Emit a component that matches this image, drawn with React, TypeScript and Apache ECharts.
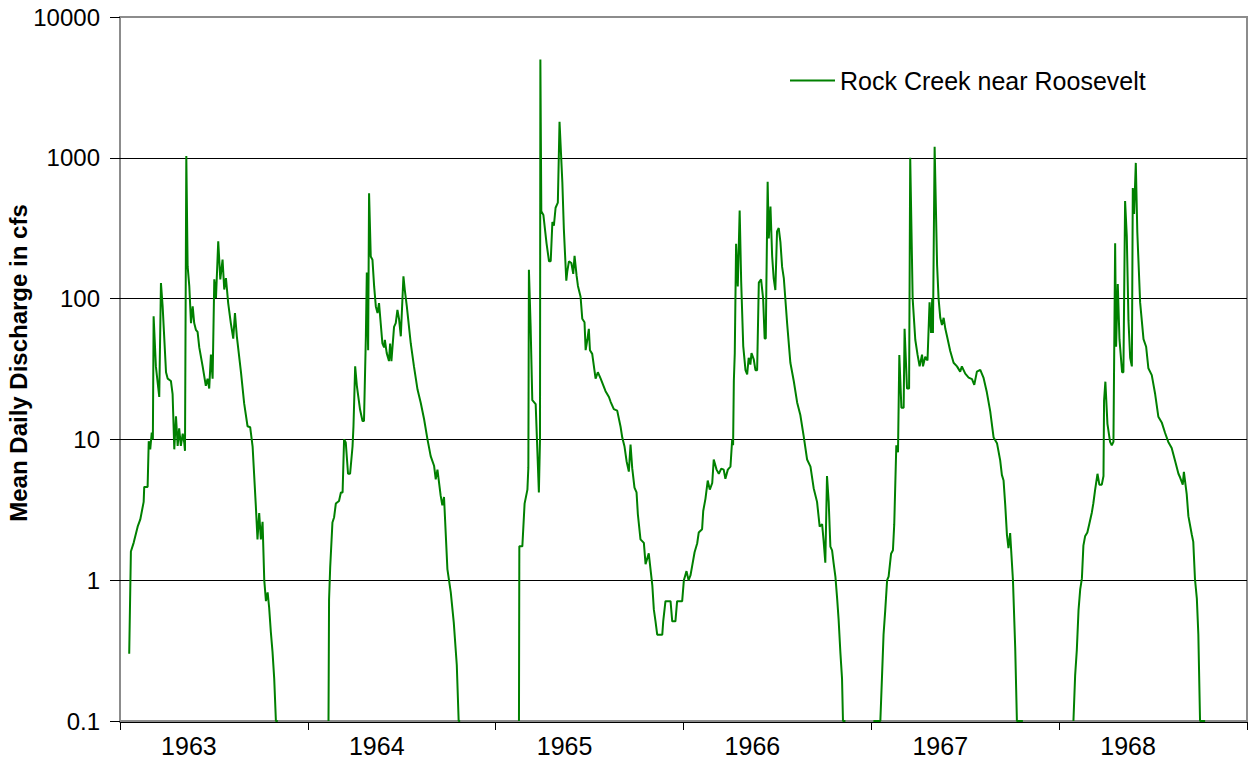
import React, { useEffect, useRef } from "react";
import * as echarts from "echarts";

const FONT = '"Liberation Sans", Arial, Helvetica, sans-serif';

const seriesName = "Rock Creek near Roosevelt";
const yAxisTitle = "Mean Daily Discharge in cfs";
const yearLabels = ["1963", "1964", "1965", "1966", "1967", "1968"];

// [decimal year, mean daily discharge in cfs]
const seg1963: [number, number][] = [
  [1963.049, 0.3], [1963.058, 1.6], [1963.073, 1.85], [1963.094, 2.4], [1963.108, 2.7], [1963.126, 3.6],
  [1963.129, 4.6], [1963.147, 4.6], [1963.153, 9.7], [1963.161, 8.5], [1963.169, 11.2], [1963.175, 10],
  [1963.179, 75], [1963.191, 33], [1963.209, 20], [1963.218, 129], [1963.227, 88], [1963.245, 30],
  [1963.254, 27], [1963.271, 26], [1963.28, 21], [1963.289, 8.5], [1963.298, 14.6], [1963.307, 9],
  [1963.315, 12], [1963.324, 9], [1963.334, 11], [1963.342, 9.5], [1963.346, 8.3], [1963.353, 1030],
  [1963.36, 170], [1963.369, 122], [1963.378, 67], [1963.387, 88], [1963.395, 67], [1963.404, 60],
  [1963.413, 58], [1963.422, 45], [1963.44, 33], [1963.457, 24], [1963.466, 27], [1963.475, 23],
  [1963.484, 40], [1963.493, 27], [1963.502, 137], [1963.511, 101], [1963.523, 255], [1963.534, 137],
  [1963.546, 189], [1963.555, 116], [1963.564, 140], [1963.576, 93], [1963.59, 67], [1963.603, 52],
  [1963.612, 79], [1963.622, 54], [1963.644, 30], [1963.661, 18], [1963.679, 12.4], [1963.693, 12.2],
  [1963.706, 8.9], [1963.723, 3.4], [1963.732, 1.95], [1963.741, 3.0], [1963.75, 1.95], [1963.759, 2.6],
  [1963.768, 1.0], [1963.777, 0.71], [1963.786, 0.82], [1963.794, 0.64], [1963.803, 0.43], [1963.812, 0.31],
  [1963.821, 0.2], [1963.83, 0.1], [1963.84, 0.1],
];

const seg1964: [number, number][] = [
  [1964.11, 0.1], [1964.113, 0.73], [1964.119, 1.23], [1964.131, 2.57], [1964.14, 2.8], [1964.149, 3.5],
  [1964.166, 3.65], [1964.176, 4.2], [1964.185, 4.2], [1964.193, 10], [1964.202, 9.5], [1964.214, 5.7],
  [1964.225, 5.7], [1964.238, 8.9], [1964.243, 12.4], [1964.252, 33], [1964.261, 24], [1964.278, 16.3],
  [1964.291, 13.5], [1964.299, 13.5], [1964.309, 54], [1964.314, 153], [1964.321, 43], [1964.326, 560],
  [1964.335, 199], [1964.344, 189], [1964.353, 122], [1964.362, 88], [1964.371, 79], [1964.379, 93],
  [1964.397, 48], [1964.406, 45], [1964.41, 51], [1964.42, 41], [1964.432, 36], [1964.438, 48],
  [1964.445, 36], [1964.459, 63], [1964.468, 67], [1964.477, 83], [1964.486, 71], [1964.495, 54],
  [1964.509, 144], [1964.516, 116], [1964.527, 88], [1964.548, 48], [1964.565, 33], [1964.584, 22.6],
  [1964.601, 18.2], [1964.619, 13.9], [1964.637, 10], [1964.654, 7.6], [1964.672, 6.5], [1964.681, 5.2],
  [1964.69, 6.1], [1964.707, 4.0], [1964.716, 3.4], [1964.725, 3.9], [1964.743, 1.2], [1964.761, 0.82],
  [1964.777, 0.5], [1964.793, 0.25], [1964.803, 0.1], [1964.811, 0.1],
];

const seg1965to1966: [number, number][] = [
  [1965.124, 0.1], [1965.126, 1.74], [1965.142, 1.74], [1965.154, 3.5], [1965.169, 4.4], [1965.174, 6.3],
  [1965.177, 160], [1965.186, 64], [1965.195, 19], [1965.213, 17.8], [1965.23, 4.2], [1965.236, 10],
  [1965.238, 5000], [1965.243, 418], [1965.254, 393], [1965.271, 246], [1965.284, 184], [1965.293, 184],
  [1965.302, 350], [1965.31, 330], [1965.319, 442], [1965.331, 480], [1965.34, 1800], [1965.355, 671],
  [1965.363, 312], [1965.376, 134], [1965.381, 155], [1965.39, 184], [1965.403, 179], [1965.413, 150],
  [1965.42, 201], [1965.431, 145], [1965.438, 123], [1965.452, 103], [1965.461, 72], [1965.473, 68],
  [1965.479, 43], [1965.488, 51], [1965.496, 61], [1965.502, 43], [1965.514, 40.5], [1965.532, 27],
  [1965.544, 30], [1965.559, 27], [1965.585, 22], [1965.603, 20], [1965.612, 18.5], [1965.629, 16.4],
  [1965.647, 16], [1965.665, 12.3], [1965.674, 10.3], [1965.686, 8.9], [1965.697, 7.0], [1965.709, 5.9],
  [1965.718, 9.2], [1965.727, 6.25], [1965.739, 4.55], [1965.75, 4.2], [1965.757, 2.94], [1965.771, 1.95],
  [1965.789, 1.84], [1965.798, 1.3], [1965.815, 1.55], [1965.834, 0.92], [1965.842, 0.62], [1965.851, 0.51],
  [1965.86, 0.41], [1965.887, 0.41], [1965.892, 0.51], [1965.904, 0.71], [1965.931, 0.71], [1965.94, 0.51],
  [1965.957, 0.51], [1965.966, 0.71], [1965.993, 0.71], [1966.002, 1.0], [1966.016, 1.16], [1966.027, 1.0],
  [1966.037, 1.08], [1966.046, 1.26], [1966.059, 1.58], [1966.073, 1.83], [1966.081, 2.18], [1966.099, 2.3],
  [1966.105, 3.1], [1966.117, 3.8], [1966.129, 5.1], [1966.14, 4.4], [1966.153, 4.9], [1966.161, 7.2],
  [1966.176, 6.1], [1966.188, 5.7], [1966.201, 6.2], [1966.214, 6.1], [1966.223, 5.25], [1966.236, 6.1],
  [1966.25, 6.4], [1966.259, 9.9], [1966.264, 9.1], [1966.268, 26], [1966.273, 41], [1966.28, 245],
  [1966.289, 122], [1966.299, 423], [1966.307, 133], [1966.318, 46], [1966.33, 31], [1966.339, 29],
  [1966.347, 38], [1966.356, 34], [1966.362, 41], [1966.374, 37], [1966.383, 31], [1966.392, 31],
  [1966.401, 130], [1966.413, 137], [1966.424, 100], [1966.432, 52], [1966.438, 52], [1966.441, 118],
  [1966.448, 675], [1966.454, 267], [1966.463, 450], [1966.472, 200], [1966.48, 140], [1966.489, 115],
  [1966.498, 300], [1966.507, 317], [1966.516, 252], [1966.525, 168], [1966.534, 140], [1966.552, 66],
  [1966.569, 35], [1966.587, 26], [1966.605, 18.3], [1966.622, 14.9], [1966.64, 10.5], [1966.658, 7.2],
  [1966.676, 6.4], [1966.693, 4.5], [1966.711, 3.6], [1966.725, 2.4], [1966.738, 2.5], [1966.746, 1.9],
  [1966.755, 1.33], [1966.764, 5.5], [1966.773, 3.6], [1966.782, 1.73], [1966.791, 1.63], [1966.799, 1.33],
  [1966.809, 1.05], [1966.818, 0.74], [1966.826, 0.52], [1966.835, 0.31], [1966.844, 0.2], [1966.849, 0.1],
  [1966.862, 0.1],
];

const seg1967: [number, number][] = [
  [1967.011, 0.1], [1967.048, 0.1], [1967.057, 0.21], [1967.065, 0.41], [1967.074, 0.61], [1967.084, 1.0],
  [1967.092, 1.06], [1967.105, 1.54], [1967.115, 1.63], [1967.122, 2.5], [1967.133, 9.1], [1967.142, 8.1],
  [1967.149, 39.8], [1967.16, 16.8], [1967.172, 16.8], [1967.177, 61], [1967.19, 23], [1967.201, 23],
  [1967.207, 1000], [1967.22, 100], [1967.234, 51], [1967.246, 40], [1967.257, 33], [1967.27, 40],
  [1967.275, 33], [1967.287, 38.6], [1967.299, 36.3], [1967.31, 94], [1967.318, 57], [1967.324, 100],
  [1967.328, 57], [1967.337, 1200], [1967.35, 174], [1967.358, 100], [1967.367, 73], [1967.376, 65],
  [1967.385, 73], [1967.394, 61], [1967.403, 54], [1967.42, 42.5], [1967.438, 35], [1967.456, 33],
  [1967.473, 30.3], [1967.482, 33], [1967.5, 29.3], [1967.518, 27.5], [1967.536, 26.8], [1967.548, 24.4],
  [1967.562, 30.3], [1967.58, 31.2], [1967.597, 27.5], [1967.615, 21.6], [1967.633, 15.8], [1967.651, 10.3],
  [1967.669, 9.4], [1967.686, 7.1], [1967.695, 5.6], [1967.704, 5.1], [1967.713, 3.4], [1967.722, 2.1],
  [1967.73, 1.69], [1967.739, 2.16], [1967.754, 1.0], [1967.766, 0.33], [1967.775, 0.1], [1967.807, 0.1],
];

const seg1968: [number, number][] = [
  [1968.076, 0.1], [1968.085, 0.21], [1968.094, 0.32], [1968.103, 0.61], [1968.112, 0.86], [1968.121, 1.03],
  [1968.129, 1.76], [1968.138, 2.05], [1968.15, 2.18], [1968.161, 2.53], [1968.174, 3.03], [1968.182, 3.52],
  [1968.191, 4.35], [1968.204, 5.7], [1968.214, 4.77], [1968.227, 4.77], [1968.236, 5.5], [1968.239, 18.8],
  [1968.246, 25.7], [1968.257, 12.9], [1968.271, 9.6], [1968.28, 9.1], [1968.289, 9.6], [1968.298, 247],
  [1968.303, 45.5], [1968.312, 127], [1968.321, 51.5], [1968.335, 30], [1968.342, 30], [1968.351, 494],
  [1968.36, 277], [1968.369, 70], [1968.378, 38], [1968.387, 33], [1968.392, 610], [1968.399, 399],
  [1968.408, 920], [1968.416, 297], [1968.431, 94], [1968.449, 51.5], [1968.463, 45.5], [1968.475, 32],
  [1968.493, 28.6], [1968.511, 21], [1968.528, 14.5], [1968.546, 13.2], [1968.564, 11.1], [1968.581, 9.6],
  [1968.599, 8.7], [1968.617, 7.06], [1968.635, 5.7], [1968.644, 5.36], [1968.658, 4.77], [1968.664, 5.88],
  [1968.679, 4.09], [1968.688, 2.85], [1968.706, 2.11], [1968.714, 1.87], [1968.723, 1.02], [1968.733, 0.74],
  [1968.741, 0.41], [1968.75, 0.1], [1968.777, 0.1],
];

const segments = [seg1963, seg1964, seg1965to1966, seg1967, seg1968];

export default function App() {
  const ref = useRef<HTMLDivElement>(null);

  useEffect(() => {
    if (!ref.current) return;
    const chart = echarts.init(ref.current, null, { renderer: "svg" });

    // zero-flow periods break the line (cannot be shown on a log axis)
    const data: any[] = [];
    segments.forEach((seg, i) => {
      if (i > 0) {
        const prev = segments[i - 1];
        data.push([(prev[prev.length - 1][0] + seg[0][0]) / 2, "-"]);
      }
      seg.forEach((p) => data.push(p));
    });

    chart.setOption({
      animation: false,
      backgroundColor: "#ffffff",
      textStyle: { fontFamily: FONT },
      grid: {
        left: 120,
        right: 2,
        top: 17,
        bottom: 42,
        show: true,
        borderColor: "#8c8c8c",
        borderWidth: 2,
        backgroundColor: "transparent",
      },
      legend: {
        left: 790,
        top: 68,
        padding: 0,
        data: [{ name: seriesName, icon: "rect" }],
        itemWidth: 45,
        itemHeight: 2,
        textStyle: { fontSize: 25, color: "#000", fontFamily: FONT },
        selectedMode: false,
      },
      graphic: [
        {
          type: "text",
          x: 18,
          y: 363,
          rotation: Math.PI / 2,
          style: {
            text: yAxisTitle,
            fontSize: 24,
            fontWeight: "bold",
            fontFamily: FONT,
            fill: "#000",
            align: "center",
            verticalAlign: "middle",
          },
        },
      ],
      xAxis: [
        {
          type: "category",
          data: yearLabels,
          boundaryGap: true,
          position: "bottom",
          offset: 1,
          axisLine: { show: true, lineStyle: { color: "#000", width: 1 } },
          axisTick: { show: true, length: 8, inside: false, lineStyle: { color: "#000", width: 1 } },
          axisLabel: {
            interval: 0,
            fontSize: 25,
            color: "#000",
            fontFamily: FONT,
            margin: 11,
            padding: [0, 50, 0, 0],
          },
          splitLine: { show: false },
        },
        {
          type: "value",
          min: 1963,
          max: 1969,
          interval: 1,
          show: false,
        },
      ],
      yAxis: {
        type: "log",
        logBase: 10,
        min: 0.1,
        max: 10000,
        axisLine: { show: false },
        axisTick: { show: true, length: 10, lineStyle: { color: "#000", width: 1 } },
        minorTick: { show: false },
        axisLabel: {
          fontSize: 24,
          color: "#000",
          fontFamily: FONT,
          margin: 20,
          formatter: (v: number) => String(parseFloat(Number(v).toPrecision(4))),
        },
        splitLine: {
          show: true,
          showMinLine: false,
          showMaxLine: false,
          lineStyle: { color: "#000", width: 1 },
        },
      },
      series: [
        {
          name: seriesName,
          type: "line",
          xAxisIndex: 1,
          data,
          showSymbol: false,
          symbol: "none",
          connectNulls: false,
          lineStyle: { color: "#008000", width: 2 },
          itemStyle: { color: "#008000" },
        },
      ],
    });

    return () => chart.dispose();
  }, []);

  return (
    <div
      ref={ref}
      style={{ position: "fixed", left: 0, top: 0, width: 1249, height: 763 }}
    />
  );
}
